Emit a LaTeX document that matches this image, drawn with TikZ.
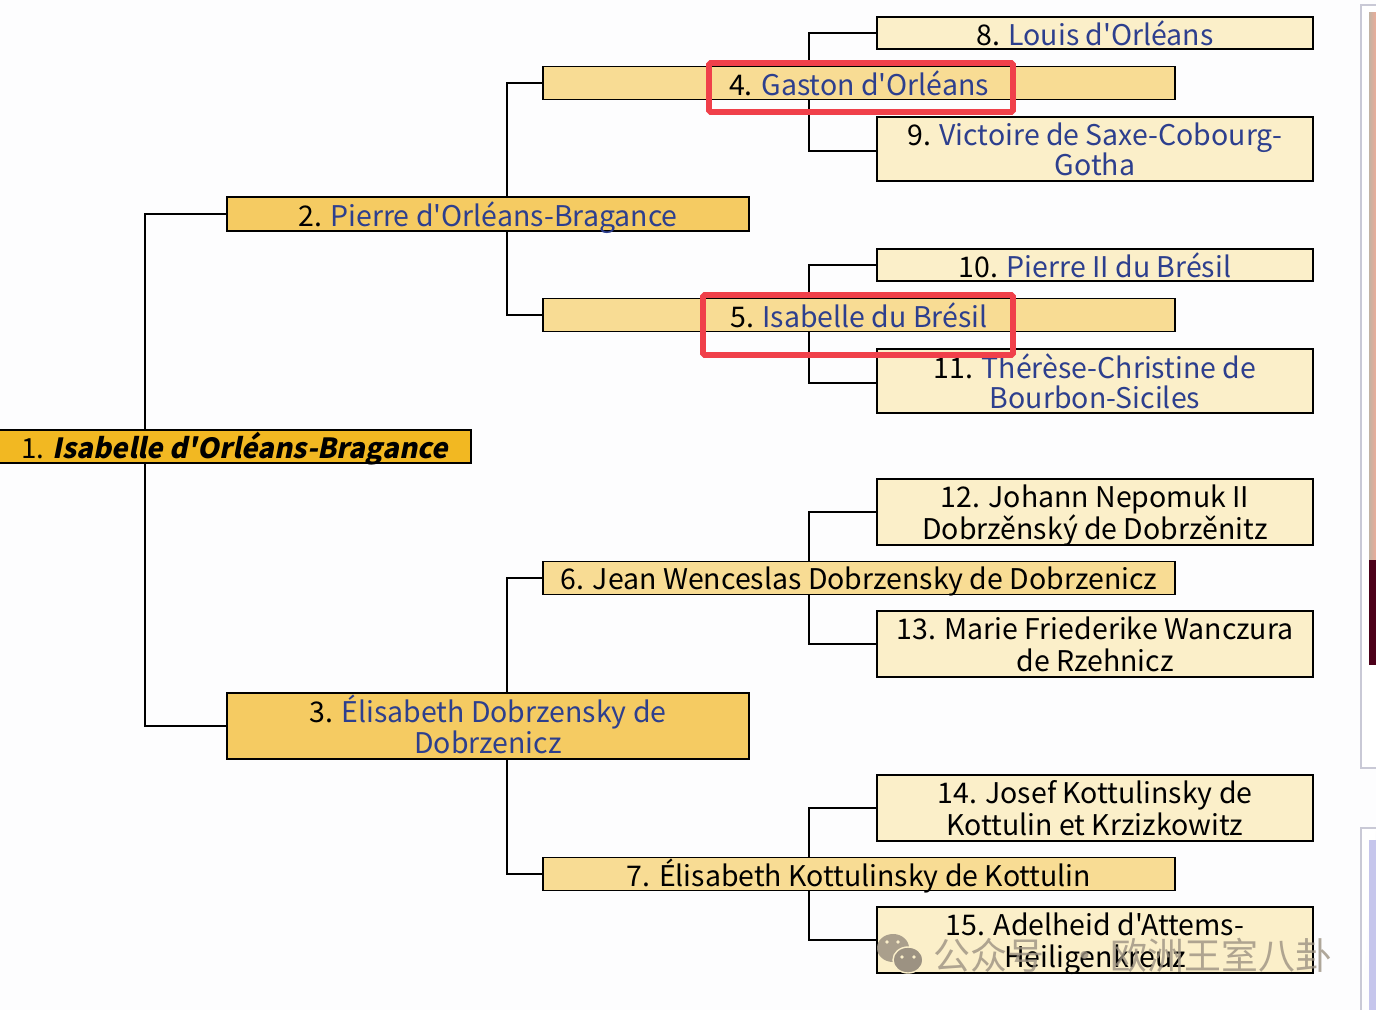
\documentclass[tikz,border=0pt]{standalone}
\usepackage{fontspec}
\newfontfamily\treefont{Noto Sans CJK SC}
\newfontfamily\rootfont[FakeSlant=0.2]{Noto Sans CJK SC}
\definecolor{paper}{HTML}{FDFDFE}
\definecolor{genA}{HTML}{F2B822}
\definecolor{genB}{HTML}{F5CB62}
\definecolor{genC}{HTML}{F8DC94}
\definecolor{genD}{HTML}{FBEFC9}
\definecolor{linkblue}{HTML}{2D3F8E}
\definecolor{markred}{HTML}{F0404A}
\definecolor{stamp}{HTML}{9C9282}
\definecolor{panel}{HTML}{C9C9D6}
\newcommand{\Lnk}[1]{\textcolor{linkblue}{#1}}
\tikzset{
  person/.style={draw=black, line width=1.1pt, inner sep=0pt, outer sep=0pt, align=center,
    font=\treefont\fontsize{16.2}{17.9}\selectfont, text=black, text depth=0pt},
  tight/.style={font=\treefont\fontsize{16.2}{17}\selectfont},
  genAbox/.style={person, fill=genA, minimum width=473*0.02cm, minimum height=33*0.02cm},
  genBbox/.style={person, fill=genB, minimum width=522*0.02cm},
  genCbox/.style={person, fill=genC, minimum width=632*0.02cm, minimum height=33*0.02cm},
  genDbox/.style={person, fill=genD, minimum width=436*0.02cm},
  link/.style={line width=1.1pt, black},
  redbox/.style={draw=markred, line width=3.4pt, rounded corners=1pt},
}
\begin{document}
\begin{tikzpicture}[x=0.02cm, y=-0.02cm]
  \useasboundingbox (0, 0) rectangle (1376, 1010);
  % page behind the tree
  \fill[paper] (0, 0) rectangle (1376, 1010);
  \draw[panel, line width=1pt, fill=white] (1376, 5) -- (1361, 5) -- (1361, 768) -- (1376, 768);
  \draw[panel, line width=1pt, fill=white] (1376, 828) -- (1361, 828) -- (1361, 1010);
  \fill[left color=gray!60!brown!60, right color=pink!70!brown] (1369, 13) rectangle (1376, 560);
  \fill[black!60!purple] (1369, 560) rectangle (1376, 665);
  \fill[gray!50!blue!30] (1369, 840) rectangle (1376, 1010);
  % tree
  \node[genAbox, text depth=1.7pt] (P1)  at (234.5, 446.5) {\fontsize{15.8}{17}\selectfont 1. \rootfont\bfseries Isabelle d'Orléans-Bragance};
  \node[genBbox, minimum height=34*0.02cm] (P2)  at (488, 214)   {2. \Lnk{Pierre d'Orléans-Bragance}};
  \node[genBbox, minimum height=66*0.02cm, text depth=2.2pt] (P3)  at (488, 726)   {3. \Lnk{Élisabeth Dobrzensky de}\\\Lnk{Dobrzenicz}};
  \node[genCbox] (P4)  at (859, 83)    {4. \Lnk{Gaston d'Orléans}};
  \node[genCbox] (P5)  at (859, 315)   {5. \Lnk{Isabelle du Brésil}};
  \node[genCbox] (P6)  at (859, 578)   {6. Jean Wenceslas Dobrzensky de Dobrzenicz};
  \node[genCbox, text depth=1.1pt] (P7)  at (859, 874)   {7. Élisabeth Kottulinsky de Kottulin};
  \node[genDbox, minimum height=32*0.02cm] (P8)  at (1095, 33)  {8. \Lnk{Louis d'Orléans}};
  \node[genDbox, tight, minimum height=64*0.02cm] (P9)  at (1095, 149) {9. \Lnk{Victoire de Saxe-Cobourg-}\\\Lnk{Gotha}};
  \node[genDbox, minimum height=32*0.02cm] (P10) at (1095, 265) {10. \Lnk{Pierre II du Brésil}};
  \node[genDbox, tight, minimum height=64*0.02cm] (P11) at (1095, 381) {11. \Lnk{Thérèse-Christine de}\\\Lnk{Bourbon-Siciles}};
  \node[genDbox, minimum height=66*0.02cm] (P12) at (1095, 512) {12. Johann Nepomuk II\\Dobrzěnský de Dobrzěnitz};
  \node[genDbox, minimum height=66*0.02cm] (P13) at (1095, 644) {13. Marie Friederike Wanczura\\de Rzehnicz};
  \node[genDbox, minimum height=66*0.02cm] (P14) at (1095, 808) {14. Josef Kottulinsky de\\Kottulin et Krzizkowitz};
  \node[genDbox, minimum height=66*0.02cm] (P15) at (1095, 940) {15. Adelheid d'Attems-\\Heiligenkreuz};
  % trunks
  \coordinate (T1) at (145, 0);
  \coordinate (T2) at (507, 0);
  \coordinate (T3) at (809, 0);
  \draw[link] (T1 |- P1.north) |- (P2.west);
  \draw[link] (T1 |- P1.south) |- (P3.west);
  \draw[link] (T2 |- P2.north) |- (P4.west);
  \draw[link] (T2 |- P2.south) |- (P5.west);
  \draw[link] (T2 |- P3.north) |- (P6.west);
  \draw[link] (T2 |- P3.south) |- (P7.west);
  \draw[link] (T3 |- P4.north) |- (P8.west);
  \draw[link] (T3 |- P4.south) |- ([yshift=-0.04cm]P9.west);
  \draw[link] (T3 |- P5.north) |- (P10.west);
  \draw[link] (T3 |- P5.south) |- ([yshift=-0.04cm]P11.west);
  \draw[link] (T3 |- P6.north) |- (P12.west);
  \draw[link] (T3 |- P6.south) |- (P13.west);
  \draw[link] (T3 |- P7.north) |- (P14.west);
  \draw[link] (T3 |- P7.south) |- (P15.west);
  % red marks
  \draw[redbox] (709, 63) rectangle (1013, 112);
  \draw[redbox] (703, 295) rectangle (1013, 355);
  % watermark
  \fill[stamp, opacity=.85] (893, 948) ellipse (16 and 14);
  \fill[stamp, draw=genD, line width=.8pt] (908, 960) ellipse (15 and 13);
  \fill[genD] (902, 957) circle (1.8) (914, 957) circle (1.8);
  \fill[genD] (887, 942) circle (1.8) (898, 942) circle (1.8);
  \node[text=stamp, opacity=.8, font=\treefont\fontsize{21}{23}\selectfont, inner sep=0pt] (WM) at (1133, 955) {公众号\hspace{0.6em}·\hspace{0.2em}欧洲王室八卦};
\end{tikzpicture}
\end{document}
